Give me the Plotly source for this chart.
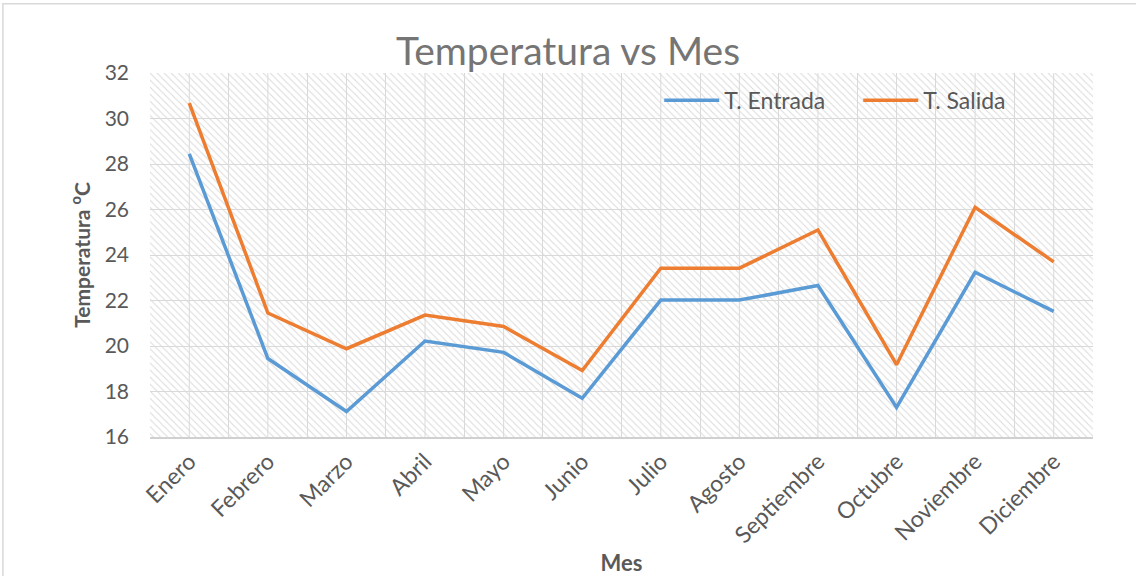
import plotly.graph_objects as go

MONTHS = ["Enero", "Febrero", "Marzo", "Abril", "Mayo", "Junio", "Julio",
          "Agosto", "Septiembre", "Octubre", "Noviembre", "Diciembre"]
T_ENTRADA = [28.45, 19.45, 17.12, 20.22, 19.72, 17.7, 22.02, 22.02, 22.66, 17.3, 23.24, 21.52]
T_SALIDA = [30.68, 21.45, 19.88, 21.36, 20.86, 18.92, 23.42, 23.42, 25.1, 19.18, 26.1, 23.7]
Y_RANGE = [16, 32]
Y_TICKS = list(range(16, 33, 2))

FONT = "Lato, Carlito, 'Open Sans', sans-serif"
TXT = "#595959"
GRID = "#d9d9d9"

fig = go.Figure()

# hatched plot-area background (spans the full y-range of the axis)
fig.add_trace(go.Bar(
    x=MONTHS, y=[Y_RANGE[1] - Y_RANGE[0]] * len(MONTHS), base=Y_RANGE[0],
    width=1, marker=dict(color="rgba(0,0,0,0)", line=dict(width=0),
                         pattern=dict(shape="\\", fgcolor="#dadada", size=5,
                                      solidity=0.2, fillmode="replace")),
    hoverinfo="skip", showlegend=False))

fig.add_trace(go.Scatter(x=MONTHS, y=T_ENTRADA, mode="lines", name="T. Entrada",
                         line=dict(color="#5B9BD5", width=3.5)))
fig.add_trace(go.Scatter(x=MONTHS, y=T_SALIDA, mode="lines", name="T. Salida",
                         line=dict(color="#ED7D31", width=3.5)))

# minor vertical gridlines at category centres
for m in MONTHS:
    fig.add_shape(type="line", xref="x", yref="paper", x0=m, x1=m, y0=0, y1=1,
                  line=dict(color=GRID, width=1), layer="below")

# outer chart border
fig.add_shape(type="rect", xref="paper", yref="paper", x0=-0.156, x1=1.2, y0=-0.5, y1=1.19,
              line=dict(color="#d9d9d9", width=1.5), layer="below")

fig.update_layout(
    width=1136, height=576,
    margin=dict(l=150, r=43, t=73, b=139, autoexpand=False),
    paper_bgcolor="white", plot_bgcolor="white",
    bargap=0,
    font=dict(family=FONT, color=TXT, size=22),
    title=dict(text="Temperatura vs Mes", x=0.5, xanchor="center", y=0.91, yanchor="middle",
               font=dict(family=FONT, size=39, color="#757575")),
    legend=dict(orientation="h", x=0.54, y=0.925, xanchor="left", yanchor="middle",
                bgcolor="rgba(0,0,0,0)", font=dict(size=23, color=TXT),
                itemwidth=55, entrywidth=129, entrywidthmode="pixels", tracegroupgap=0),
    showlegend=True,
)

fig.update_xaxes(type="category", tickson="boundaries", showgrid=True, gridcolor=GRID,
                 gridwidth=1, ticks="", tickangle=-45, tickfont=dict(size=23, color=TXT),
                 showline=True, linecolor="#d0d0d0", linewidth=2, mirror=False,
                 automargin=False,
                 title=dict(text="<b>Mes</b>", font=dict(size=22, color=TXT), standoff=8))
fig.update_yaxes(range=Y_RANGE, tickvals=Y_TICKS, showgrid=True, gridcolor=GRID, gridwidth=1,
                 zeroline=False, ticks="", ticklabelstandoff=20, automargin=False,
                 tickfont=dict(size=21, color=TXT), showline=False,
                 title=dict(text="<b>Temperatura <sup>o</sup>C</b>",
                            font=dict(size=21, color=TXT), standoff=8))

fig.write_html("out.html", post_script="document.body.style.margin='0';",
               config={"displayModeBar": False})
